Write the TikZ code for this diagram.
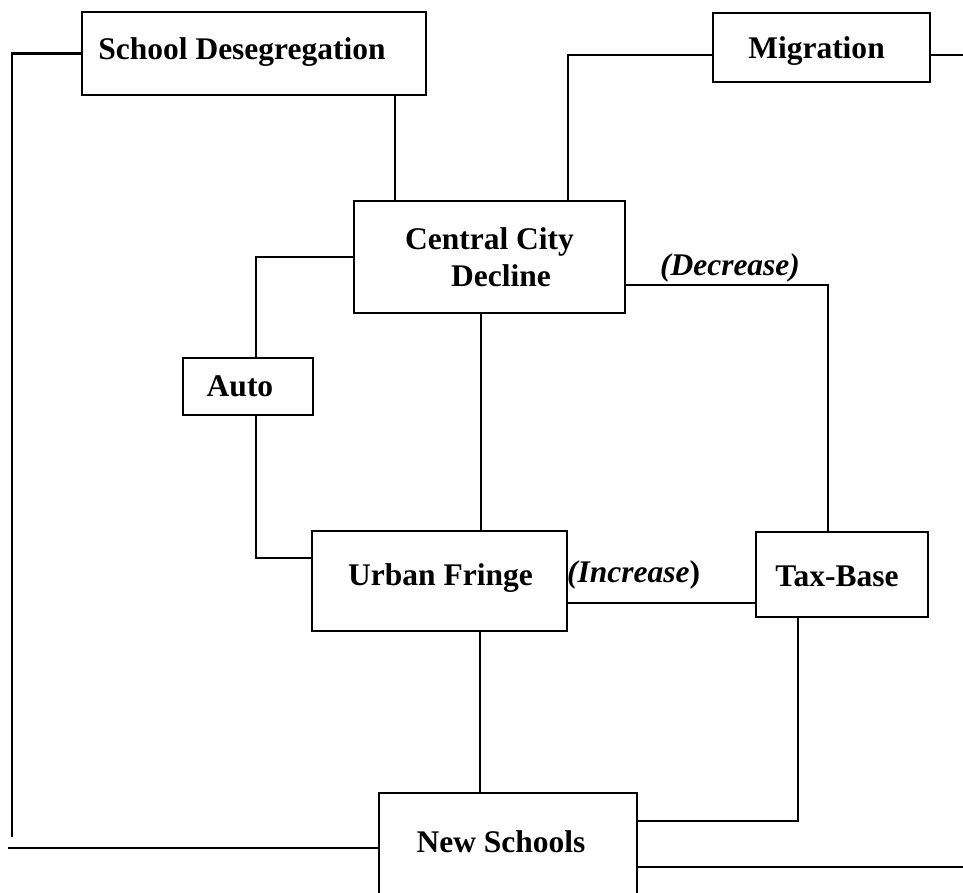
\documentclass[tikz,border=0pt]{standalone}
\usepackage{fontspec}
\setmainfont{Liberation Serif}
\begin{document}
\begin{tikzpicture}[x=1pt,y=-1pt,
  box/.style={draw, line width=2.3pt, inner sep=0pt, align=center,
    font=\bfseries\fontsize{31.5}{37.5}\selectfont},
  lbl/.style={inner sep=0pt, font=\bfseries\fontsize{31.5}{37.5}\selectfont},
  ilbl/.style={inner sep=0pt, font=\bfseries\itshape\fontsize{31.5}{37.5}\selectfont},
  conn/.style={line width=2.3pt, line join=miter}]
\useasboundingbox (0,0) rectangle (963,893);

% boxes
\node[box, minimum width=344pt, minimum height=83pt,
  label={[lbl,xshift=-12pt,yshift=1pt]center:School Desegregation}] (sd) at (254,53.5) {};
\node[box, minimum width=217pt, minimum height=69pt,
  label={[lbl,xshift=-5pt,yshift=-4pt]center:Migration}] (mig) at (821.5,47.5) {};
\node[box, minimum width=271pt, minimum height=112pt] (cc) at (489.5,257)
  {Central City\\\hspace*{23pt}Decline};
\node[box, minimum width=130pt, minimum height=57pt,
  label={[lbl,xshift=-8pt]center:Auto}] (auto) at (248,386.5) {};
\node[box, minimum width=255pt, minimum height=100pt,
  label={[lbl,xshift=1pt,yshift=3pt]center:Urban Fringe}] (uf) at (439.5,581) {};
\node[box, minimum width=172pt, minimum height=85pt,
  label={[lbl,xshift=-5pt,yshift=-2pt]center:Tax-Base}] (tb) at (842,574.5) {};
\node[inner sep=0pt, minimum width=258pt, minimum height=100pt,
  label={[lbl,xshift=-7pt,yshift=1pt]center:New Schools}] (ns) at (508,843) {};
\draw[conn] (ns.south west) -- (ns.north west) -- (ns.north east) -- (ns.south east);

% labels on connectors
\node[ilbl] (dec) at (730,268) {(Decrease)};
\node[inner sep=0pt] (inc) at (633.5,575) {\bfseries\itshape\fontsize{31.5}{37.5}\selectfont(Increase\upshape)};

% free ends
\coordinate (leftTop) at (12,837);
\coordinate (leftBot) at (8,848);
\coordinate (migEnd) at (963,55);
\coordinate (nsEnd) at (963,867);

% connectors
\draw[conn] (sd.west) -- (12,53.5) -- (leftTop);
\draw[conn] (ns.west |- leftBot) -- (leftBot);
\draw[conn] (sd.south -| 395,0) -- (cc.north -| 395,0);
\draw[conn] (mig.west |- 0,55) -- (568,55) -- (cc.north -| 568,0);
\draw[conn] (mig.east |- migEnd) -- (migEnd);
\draw[conn] (cc.west) -- (256,257) -- (auto.north -| 256,0);
\draw[conn] (auto.south -| 256,0) -- (256,558) -- (uf.west |- 0,558);
\draw[conn] (cc.south -| 481,0) -- (uf.north -| 481,0);
\draw[conn] (cc.east |- 0,285) -- (828,285) -- (tb.north -| 828,0);
\draw[conn] (uf.east |- 0,603) -- (tb.west |- 0,603);
\draw[conn] (uf.south -| 480,0) -- (ns.north -| 480,0);
\draw[conn] (tb.south -| 798,0) -- (798,821) -- (ns.east |- 0,821);
\draw[conn] (ns.east |- nsEnd) -- (nsEnd);
\end{tikzpicture}
\end{document}
